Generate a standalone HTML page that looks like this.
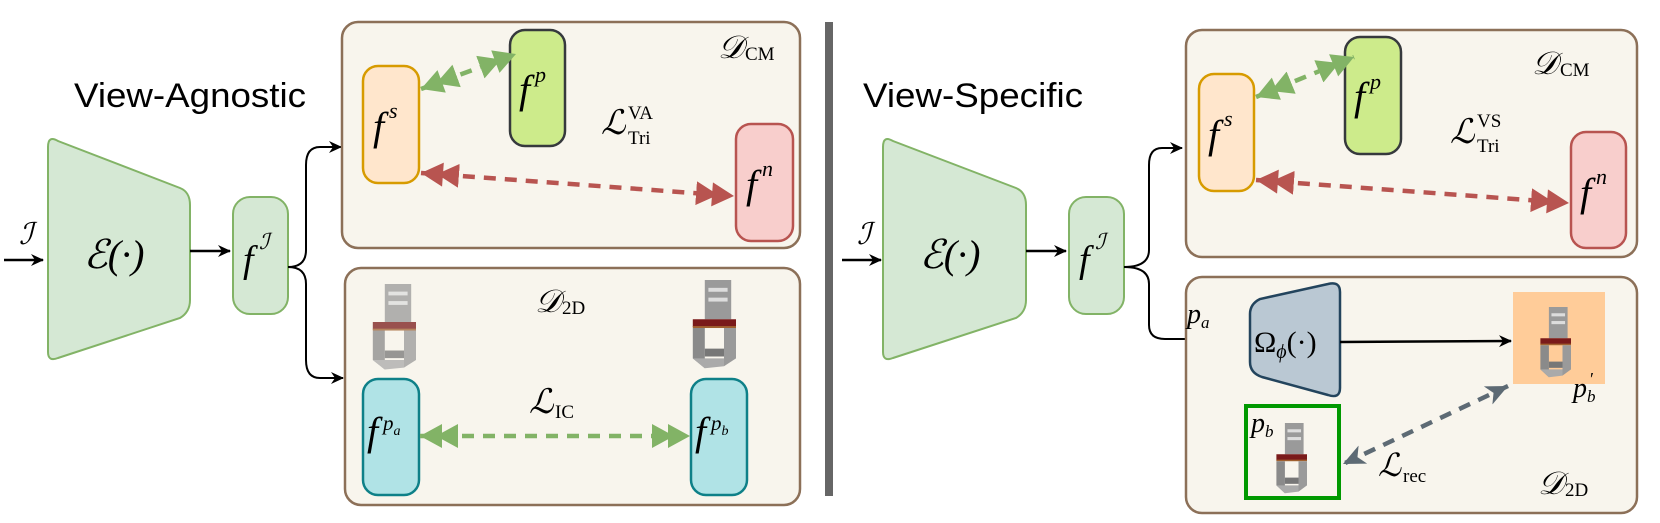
<!DOCTYPE html>
<html><head><meta charset="utf-8"><style>
html,body{margin:0;padding:0;background:#fff;}
svg{display:block;}
.m{font-family:"Liberation Serif",serif;font-style:italic;fill:#000;}
.r{font-family:"Liberation Serif",serif;fill:#000;}
.s{font-family:"Liberation Sans",sans-serif;fill:#000;}
</style></head><body>
<svg width="1660" height="523" viewBox="0 0 1660 523" xmlns="http://www.w3.org/2000/svg">
<defs>
<marker id="ab" markerUnits="userSpaceOnUse" markerWidth="14" markerHeight="14" refX="12" refY="7" orient="auto"><path d="M0,1 L13,7 L0,13 L4,7Z" fill="#000"/></marker>
<marker id="gg" markerUnits="userSpaceOnUse" markerWidth="40" markerHeight="24" refX="38" refY="12" orient="auto-start-reverse"><path d="M0,0 L22,12 L0,24Z M16,0 L38,12 L16,24Z" fill="#82b366"/></marker>
<marker id="rr" markerUnits="userSpaceOnUse" markerWidth="40" markerHeight="24" refX="38" refY="12" orient="auto-start-reverse"><path d="M0,0 L22,12 L0,24Z M16,0 L38,12 L16,24Z" fill="#b85450"/></marker>
<marker id="ga" markerUnits="userSpaceOnUse" markerWidth="24" markerHeight="24" refX="22" refY="12" orient="auto-start-reverse"><path d="M0,2 L22,12 L0,22 L6,12Z" fill="#5d6a74"/></marker>
<g id="chair">
<polygon points="14,0 36,0 36,40 14,40" fill="#9a9a9a"/>
<rect x="17" y="8" width="16" height="4" fill="#ddd"/><rect x="17" y="18" width="16" height="4" fill="#ddd"/>
<polygon points="4,40 40,40 40,48 4,48" fill="#7a1a1a"/>
<rect x="4" y="47" width="36" height="2" fill="#a06030"/>
<polygon points="4,49 14,49 14,90 4,80" fill="#8a8a8a"/>
<polygon points="30,49 40,49 40,80 30,88" fill="#9a9a9a"/>
<polygon points="14,70 30,70 30,78 14,78" fill="#777"/>
<polygon points="4,80 14,90 30,88 30,80" fill="#aaa"/>
</g>
</defs>

<!-- LEFT -->
<text class="s" x="74" y="107" font-size="34" textLength="232" lengthAdjust="spacingAndGlyphs">View-Agnostic</text>
<path d="M48,147 Q48,135 58,141 L180,188 Q190,192 190,205 L190,300 Q190,312 180,318 L58,358 Q48,362 48,352Z" fill="#d5e8d4" stroke="#82b366" stroke-width="2"/>
<text class="m" x="114" y="268" font-size="40" text-anchor="middle">ℰ(·)</text>
<line x1="4" y1="260" x2="43" y2="260" stroke="#000" stroke-width="2.5" marker-end="url(#ab)"/>
<text class="m" x="26" y="244" font-size="30" text-anchor="middle">ℐ</text>
<line x1="190" y1="251" x2="230" y2="251" stroke="#000" stroke-width="2.5" marker-end="url(#ab)"/>
<rect x="233" y="197" width="55" height="117" rx="17" fill="#d5e8d4" stroke="#82b366" stroke-width="2"/>
<text class="m" x="243" y="272" font-size="38">f</text><text class="m" x="259" y="249" font-size="22">ℐ</text>
<path d="M288,267 Q306,267 306,250 L306,165 Q306,147 320,147 L341,147" fill="none" stroke="#000" stroke-width="2" marker-end="url(#ab)"/>
<path d="M288,267 Q306,267 306,284 L306,360 Q306,378 320,378 L343,378" fill="none" stroke="#000" stroke-width="2" marker-end="url(#ab)"/>

<rect x="342" y="22" width="458" height="226" rx="16" fill="#f8f5ed" stroke="#8c7058" stroke-width="2.5"/>
<rect x="345" y="268" width="455" height="237" rx="16" fill="#f8f5ed" stroke="#8c7058" stroke-width="2.5"/>
<rect x="825" y="22" width="8" height="474" fill="#666"/>

<rect x="363" y="66" width="56" height="117" rx="15" fill="#ffe6cc" stroke="#d79b00" stroke-width="2.5"/>
<text class="m" x="373" y="140" font-size="40">f</text><text class="m" x="389" y="118" font-size="22">s</text>
<rect x="510" y="30" width="55" height="116" rx="15" fill="#cdeb8b" stroke="#36393d" stroke-width="2.5"/>
<text class="m" x="519" y="103" font-size="40">f</text><text class="m" x="535" y="82" font-size="22">p</text>
<rect x="736" y="124" width="57" height="117" rx="15" fill="#f8cecc" stroke="#b85450" stroke-width="2.5"/>
<text class="m" x="746" y="198" font-size="40">f</text><text class="m" x="762" y="176" font-size="22">n</text>
<text class="m" x="601" y="134" font-size="34">ℒ</text><text class="r" x="628" y="119" font-size="19">VA</text><text class="r" x="628" y="144" font-size="19">Tri</text>
<text class="m" x="718" y="58" font-size="32">𝒟</text><text class="r" x="745" y="60" font-size="19">CM</text>
<line x1="421" y1="89" x2="516" y2="54" stroke="#82b366" stroke-width="4.5" stroke-dasharray="12,9" marker-start="url(#gg)" marker-end="url(#gg)"/>
<line x1="421" y1="173" x2="734" y2="196" stroke="#b85450" stroke-width="4.5" stroke-dasharray="12,9" marker-start="url(#rr)" marker-end="url(#rr)"/>

<g opacity="0.75"><use href="#chair" transform="translate(368,284) scale(1.2,0.95)"/></g>
<use href="#chair" transform="translate(688,280) scale(1.2,0.98)"/>
<text class="m" x="535" y="312" font-size="32">𝒟</text><text class="r" x="562" y="314" font-size="19">2D</text>
<rect x="363" y="379" width="56" height="116" rx="15" fill="#b0e3e6" stroke="#0e8088" stroke-width="2.5"/>
<text class="m" x="367" y="445" font-size="40">f</text><text class="m" x="383" y="430" font-size="21">p<tspan font-size="14" dy="5">a</tspan></text>
<rect x="691" y="379" width="56" height="116" rx="15" fill="#b0e3e6" stroke="#0e8088" stroke-width="2.5"/>
<text class="m" x="695" y="445" font-size="40">f</text><text class="m" x="711" y="430" font-size="21">p<tspan font-size="14" dy="5">b</tspan></text>
<text class="m" x="529" y="413" font-size="34">ℒ</text><text class="r" x="555" y="418" font-size="19">IC</text>
<line x1="420" y1="436" x2="690" y2="436" stroke="#82b366" stroke-width="4.5" stroke-dasharray="12,9" marker-start="url(#gg)" marker-end="url(#gg)"/>

<!-- RIGHT -->
<text class="s" x="863" y="107" font-size="34" textLength="220" lengthAdjust="spacingAndGlyphs">View-Specific</text>
<path d="M883,147 Q883,135 893,141 L1016,188 Q1026,192 1026,205 L1026,300 Q1026,312 1016,318 L893,358 Q883,362 883,352Z" fill="#d5e8d4" stroke="#82b366" stroke-width="2"/>
<text class="m" x="950" y="268" font-size="40" text-anchor="middle">ℰ(·)</text>
<line x1="842" y1="260" x2="881" y2="260" stroke="#000" stroke-width="2.5" marker-end="url(#ab)"/>
<text class="m" x="864" y="244" font-size="30" text-anchor="middle">ℐ</text>
<line x1="1026" y1="251" x2="1066" y2="251" stroke="#000" stroke-width="2.5" marker-end="url(#ab)"/>
<rect x="1069" y="197" width="55" height="117" rx="17" fill="#d5e8d4" stroke="#82b366" stroke-width="2"/>
<text class="m" x="1079" y="272" font-size="38">f</text><text class="m" x="1095" y="249" font-size="22">ℐ</text>
<path d="M1124,267 Q1149,267 1149,250 L1149,165 Q1149,148 1162,148 L1182,148" fill="none" stroke="#000" stroke-width="2" marker-end="url(#ab)"/>
<path d="M1124,267 Q1149,267 1149,284 L1149,325 Q1149,339 1165,339 L1250,339" fill="none" stroke="#000" stroke-width="2" marker-end="url(#ab)"/>

<rect x="1186" y="30" width="451" height="227" rx="16" fill="#f8f5ed" stroke="#8c7058" stroke-width="2.5"/>
<rect x="1186" y="277" width="451" height="236" rx="16" fill="#f8f5ed" stroke="#8c7058" stroke-width="2.5"/>

<rect x="1199" y="74" width="55" height="117" rx="15" fill="#ffe6cc" stroke="#d79b00" stroke-width="2.5"/>
<text class="m" x="1208" y="148" font-size="40">f</text><text class="m" x="1224" y="126" font-size="22">s</text>
<rect x="1345" y="37" width="56" height="117" rx="15" fill="#cdeb8b" stroke="#36393d" stroke-width="2.5"/>
<text class="m" x="1354" y="110" font-size="40">f</text><text class="m" x="1370" y="89" font-size="22">p</text>
<rect x="1571" y="132" width="55" height="116" rx="15" fill="#f8cecc" stroke="#b85450" stroke-width="2.5"/>
<text class="m" x="1580" y="206" font-size="40">f</text><text class="m" x="1596" y="184" font-size="22">n</text>
<text class="m" x="1450" y="143" font-size="34">ℒ</text><text class="r" x="1477" y="127" font-size="19">VS</text><text class="r" x="1477" y="152" font-size="19">Tri</text>
<text class="m" x="1532" y="74" font-size="32">𝒟</text><text class="r" x="1560" y="76" font-size="19">CM</text>
<line x1="1256" y1="97" x2="1354" y2="57" stroke="#82b366" stroke-width="4.5" stroke-dasharray="12,9" marker-start="url(#gg)" marker-end="url(#gg)"/>
<line x1="1256" y1="180" x2="1569" y2="203" stroke="#b85450" stroke-width="4.5" stroke-dasharray="12,9" marker-start="url(#rr)" marker-end="url(#rr)"/>

<path d="M1250,314 Q1250,304 1260,299 L1328,284 Q1340,281 1340,292 L1340,388 Q1340,399 1328,395 L1262,377 Q1250,373 1250,362Z" fill="#bac8d3" stroke="#23445d" stroke-width="2.5"/>
<text class="r" x="1254" y="352" font-size="30">Ω<tspan class="m" font-size="20" dy="6">ϕ</tspan><tspan dy="-6">(·)</tspan></text>
<text class="m" x="1187" y="323" font-size="28">p<tspan font-size="17" dy="5">a</tspan></text>
<line x1="1340" y1="342" x2="1511" y2="341" stroke="#000" stroke-width="2.5" marker-end="url(#ab)"/>
<rect x="1513" y="292" width="92" height="92" fill="#ffcc99"/>
<use href="#chair" transform="translate(1537,307) scale(0.85,0.78)"/>
<text class="m" x="1573" y="397" font-size="28">p<tspan font-size="17" dy="5">b</tspan></text>
<text class="r" x="1590" y="385" font-size="18">′</text>
<rect x="1246" y="406" width="93" height="92" fill="none" stroke="#009900" stroke-width="4"/>
<use href="#chair" transform="translate(1273,423) scale(0.85,0.78)"/>
<text class="m" x="1251" y="432" font-size="28">p<tspan font-size="17" dy="5">b</tspan></text>
<line x1="1508" y1="386" x2="1343" y2="464" stroke="#5d6a74" stroke-width="4.5" stroke-dasharray="12,9" marker-start="url(#ga)" marker-end="url(#ga)"/>
<text class="m" x="1378" y="476" font-size="32">ℒ</text><text class="r" x="1403" y="482" font-size="19">rec</text>
<text class="m" x="1538" y="494" font-size="32">𝒟</text><text class="r" x="1565" y="496" font-size="19">2D</text>
</svg>
</body></html>
